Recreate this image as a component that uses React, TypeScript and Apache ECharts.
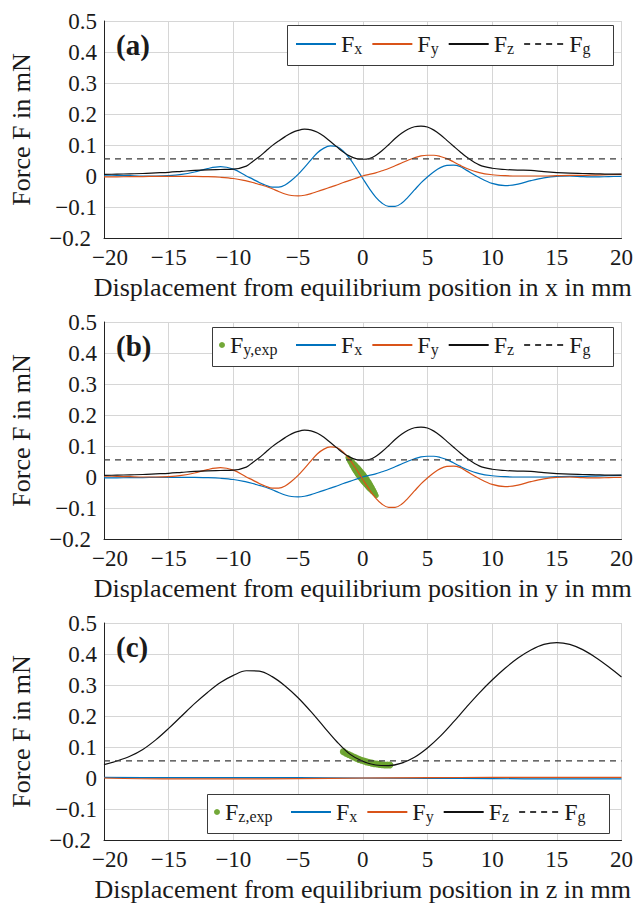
import React, { useEffect, useRef } from 'react';
import * as echarts from 'echarts';

// ---------- data ----------
const xsAB = [-20, -19, -18, -17, -16, -15, -14, -13, -12, -11, -10, -9,
  -8.5, -8, -7.5, -7, -6.5, -6, -5.5, -5, -4.5, -4, -3.5, -3, -2.5, -2, -1.5, -1, -0.5,
  0, 0.5, 1, 1.5, 2, 2.5, 3, 3.5, 4, 4.5, 5, 5.5, 6, 6.5, 7, 7.5, 8,
  9, 10, 11, 12, 13, 14, 15, 16, 17, 18, 19, 20];

// panel (a): displacement in x
const fxA = [0.003, 0.002, 0.001, 0.0, 0.0, 0.001, 0.005, 0.013, 0.024, 0.030, 0.022, 0.0,
  -0.010, -0.021, -0.030, -0.036, -0.036, -0.029, -0.014, 0.005, 0.028, 0.052, 0.075, 0.090, 0.097, 0.095, 0.080, 0.056, 0.025,
  -0.008, -0.040, -0.068, -0.088, -0.098, -0.098, -0.088, -0.068, -0.045, -0.022, -0.003, 0.014, 0.027, 0.034, 0.035, 0.031, 0.019,
  -0.005, -0.024, -0.031, -0.026, -0.015, -0.006, -0.001, 0.0, -0.002, -0.003, -0.002, -0.001];
const fyA = [-0.003, -0.003, -0.002, -0.002, -0.001, -0.001, -0.001, -0.001, -0.002, -0.004, -0.008, -0.016,
  -0.021, -0.027, -0.033, -0.041, -0.050, -0.058, -0.063, -0.064, -0.062, -0.057, -0.050, -0.043, -0.036, -0.029, -0.021, -0.014, -0.007,
  0.0, 0.005, 0.010, 0.017, 0.024, 0.033, 0.042, 0.051, 0.059, 0.065, 0.067, 0.067, 0.063, 0.056, 0.046, 0.035, 0.025,
  0.011, 0.004, 0.001, 0.0, 0.0, 0.0, 0.001, 0.002, 0.002, 0.003, 0.004, 0.005];
const fzA = [0.005, 0.006, 0.007, 0.008, 0.010, 0.012, 0.015, 0.018, 0.020, 0.021, 0.022, 0.032,
  0.047, 0.062, 0.080, 0.098, 0.113, 0.127, 0.139, 0.147, 0.151, 0.149, 0.141, 0.128, 0.111, 0.094, 0.077, 0.064, 0.056,
  0.054, 0.056, 0.066, 0.082, 0.101, 0.121, 0.138, 0.151, 0.159, 0.161, 0.158, 0.148, 0.133, 0.115, 0.097, 0.079, 0.062,
  0.036, 0.025, 0.021, 0.019, 0.018, 0.014, 0.011, 0.009, 0.008, 0.007, 0.006, 0.006];

// panel (b): displacement in y
const fxB = [-0.003, -0.003, -0.002, -0.002, -0.001, -0.001, -0.001, -0.001, -0.002, -0.004, -0.008, -0.016,
  -0.021, -0.027, -0.033, -0.041, -0.050, -0.058, -0.063, -0.064, -0.062, -0.057, -0.050, -0.043, -0.036, -0.029, -0.021, -0.014, -0.007,
  0.0, 0.005, 0.010, 0.017, 0.024, 0.033, 0.042, 0.051, 0.059, 0.065, 0.067, 0.067, 0.063, 0.056, 0.046, 0.035, 0.025,
  0.011, 0.004, 0.001, 0.0, 0.0, 0.0, 0.001, 0.002, 0.002, 0.003, 0.004, 0.005];
const fyB = [0.003, 0.002, 0.001, 0.0, 0.0, 0.001, 0.005, 0.013, 0.024, 0.030, 0.022, 0.0,
  -0.010, -0.021, -0.030, -0.036, -0.036, -0.029, -0.014, 0.005, 0.028, 0.052, 0.075, 0.090, 0.097, 0.095, 0.080, 0.056, 0.025,
  -0.008, -0.040, -0.068, -0.088, -0.098, -0.098, -0.088, -0.068, -0.045, -0.022, -0.003, 0.014, 0.027, 0.034, 0.035, 0.031, 0.019,
  -0.005, -0.024, -0.031, -0.026, -0.015, -0.006, -0.001, 0.0, -0.002, -0.003, -0.002, -0.001];
const fzB = [0.005, 0.006, 0.007, 0.008, 0.010, 0.012, 0.015, 0.018, 0.020, 0.021, 0.022, 0.032,
  0.047, 0.062, 0.080, 0.098, 0.113, 0.127, 0.139, 0.147, 0.151, 0.149, 0.141, 0.128, 0.111, 0.094, 0.077, 0.064, 0.056,
  0.054, 0.056, 0.066, 0.082, 0.101, 0.121, 0.138, 0.151, 0.159, 0.161, 0.158, 0.148, 0.133, 0.115, 0.097, 0.079, 0.062,
  0.036, 0.025, 0.021, 0.019, 0.018, 0.014, 0.011, 0.009, 0.008, 0.007, 0.006, 0.006];
const expBx = [-1.15, -1.05, -0.95, -0.85, -0.75, -0.65, -0.55, -0.45, -0.35, -0.25, -0.15, -0.05,
  0.05, 0.15, 0.25, 0.35, 0.45, 0.55, 0.65, 0.75, 0.85, 0.95, 1.05];
const expBy = [0.063, 0.057, 0.051, 0.046, 0.040, 0.035, 0.029, 0.024, 0.018, 0.012, 0.007, 0.002,
  -0.004, -0.009, -0.015, -0.020, -0.026, -0.032, -0.037, -0.043, -0.048, -0.054, -0.060];

// panel (c): displacement in z
const xsC = [-20, -19, -18, -17, -16, -15, -14, -13, -12, -11, -10, -9, -8, -7, -6, -5, -4, -3, -2, -1,
  0, 1, 2, 3, 4, 5, 6, 7, 8, 9, 10, 11, 12, 13, 14, 15, 16, 17, 18, 19, 20];
const fzC = [0.043, 0.055, 0.070, 0.092, 0.123, 0.160, 0.200, 0.240, 0.276, 0.308, 0.331, 0.346, 0.345, 0.327, 0.297,
  0.259, 0.214, 0.165, 0.117, 0.077, 0.054, 0.042, 0.040, 0.048, 0.067, 0.097, 0.135, 0.180, 0.228, 0.274,
  0.316, 0.354, 0.387, 0.413, 0.431, 0.437, 0.431, 0.414, 0.389, 0.359, 0.326];
const xsFlat = [-20, -15, -10, -5, 0, 5, 10, 15, 20];
const fxC = [0.002, 0.001, 0.001, 0.001, 0.0, -0.001, -0.002, -0.003, -0.003];
const fyC = [0.0, -0.003, -0.003, -0.002, 0.0, 0.001, 0.002, 0.002, 0.002];
const expCx = [-1.5, -1.3, -1.1, -0.9, -0.7, -0.5, -0.3, -0.1, 0.1, 0.3, 0.5, 0.7, 0.9, 1.1, 1.3, 1.5, 1.7, 1.9, 2.1];
const expCy = [0.085, 0.080, 0.076, 0.072, 0.068, 0.064, 0.060, 0.057, 0.055, 0.052, 0.050, 0.048, 0.046,
  0.045, 0.044, 0.043, 0.042, 0.042, 0.042];

const fg = 0.055; // weight force
const xTicks = { min: -20, max: 20, interval: 5 };
const yTicks = { min: -0.2, max: 0.5, interval: 0.1 };
const panelLabels = ['(a)', '(b)', '(c)'];
const xNames = [
  'Displacement from equilibrium position in x in mm',
  'Displacement from equilibrium position in y in mm',
  'Displacement from equilibrium position in z in mm',
];
const yName = 'Force F in mN';

// ---------- styling ----------
const FONT = 'Liberation Serif';
const TXT = '#1a1a1a';
const BLUE = '#0072BD';
const ORANGE = '#D95319';
const BLACK = '#111111';
const GREEN = '#6BA32E';
const GRID_TOPS = [21, 322, 623];
const TICK_FS = 23;
const NAME_FS = 26;

const zip = (a: number[], b: number[]) => a.map((v, i) => [v, b[i]]);
const minus = (s: string) => s.replace('-', '\u2212');

function buildOption() {
  const panels = [
    { xs: xsAB, fx: fxA, fy: fyA, fz: fzA, xsXY: xsAB, exp: null as null | { name: string; x: number[]; y: number[] } },
    { xs: xsAB, fx: fxB, fy: fyB, fz: fzB, xsXY: xsAB, exp: { name: 'Fy,exp', x: expBx, y: expBy } },
    { xs: xsC, fx: fxC, fy: fyC, fz: fzC, xsXY: xsFlat, exp: { name: 'Fz,exp', x: expCx, y: expCy } },
  ];

  const grid = GRID_TOPS.map((t) => ({ left: 104, top: t, width: 520, height: 217, containLabel: false }));

  const tickText = { fontFamily: FONT, fontSize: TICK_FS, color: TXT };
  const nameText = { fontFamily: FONT, fontSize: NAME_FS, color: TXT };

  const xAxis = GRID_TOPS.map((_, i) => ({
    gridIndex: i,
    type: 'value',
    ...xTicks,
    name: `{n|${xNames[i]}}`,
    nameLocation: 'middle',
    nameGap: 36,
    nameTextStyle: { ...nameText, rich: { n: { ...nameText } } },
    axisLine: { show: true, onZero: false, lineStyle: { color: '#222', width: 1 } },
    axisTick: { show: false },
    axisLabel: {
      margin: 8,
      ...tickText,
      formatter: (v: number) => {
        const s = minus(String(v));
        return v === xTicks.min ? `{lo|${s}}` : `{t|${s}}`;
      },
      rich: { lo: { ...tickText, padding: [0, 0, 0, 12] }, t: { ...tickText } },
    },
    splitLine: { show: true, lineStyle: { color: '#d6d6d6', width: 1 } },
  }));

  const yAxis = GRID_TOPS.map((_, i) => ({
    gridIndex: i,
    type: 'value',
    ...yTicks,
    name: `{n|${yName}}`,
    nameLocation: 'middle',
    nameGap: 70,
    nameTextStyle: { ...nameText, rich: { n: { ...nameText } } },
    axisLine: { show: true, onZero: false, lineStyle: { color: '#222', width: 1 } },
    axisTick: { show: false },
    axisLabel: {
      margin: 7,
      ...tickText,
      formatter: (v: number) => {
        const r = Math.round(v * 10) / 10;
        const s = r === 0 ? '0' : minus(r.toFixed(1));
        return Math.abs(r - yTicks.min) < 1e-9 ? `{lo|${s}}` : `{t|${s}}`;
      },
      rich: { lo: { ...tickText, padding: [0, 6, 0, 0] }, t: { ...tickText } },
    },
    splitLine: { show: true, lineStyle: { color: '#d6d6d6', width: 1 } },
  }));

  const series: any[] = [];
  panels.forEach((p, i) => {
    if (p.exp) {
      const n = p.exp.x.length;
      series.push({
        type: 'scatter',
        name: p.exp.name,
        xAxisIndex: i,
        yAxisIndex: i,
        data: zip(p.exp.x, p.exp.y),
        symbol: 'circle',
        symbolSize: (_v: any, params: any) => {
          if (i === 2) return 7;
          const t = (2 * params.dataIndex) / (n - 1) - 1;
          return 5 + 5 * (1 - t * t);
        },
        itemStyle: { color: GREEN, opacity: 0.95 },
        z: 1,
      });
    }
    const common = { type: 'line', xAxisIndex: i, yAxisIndex: i, showSymbol: false, symbol: 'none', smooth: 0.35, z: 2 };
    series.push({ ...common, name: 'Fx', data: zip(p.xsXY, p.fx), itemStyle: { color: BLUE }, lineStyle: { color: BLUE, width: 1.2 } });
    series.push({ ...common, name: 'Fy', data: zip(p.xsXY, p.fy), itemStyle: { color: ORANGE }, lineStyle: { color: ORANGE, width: 1.2 } });
    series.push({ ...common, name: 'Fz', data: zip(p.xs, p.fz), itemStyle: { color: BLACK }, lineStyle: { color: BLACK, width: 1.2 } });
    series.push({
      ...common,
      smooth: false,
      name: 'Fg',
      data: [[xTicks.min, fg], [xTicks.max, fg]],
      itemStyle: { color: '#3a3a3a' },
      lineStyle: { color: '#3a3a3a', width: 1.3, type: [6, 5] },
    });
  });

  const rich = {
    m: { fontFamily: FONT, fontSize: 24, color: TXT, lineHeight: 24, verticalAlign: 'top', padding: [0, 0, 3, 0] },
    s: { fontFamily: FONT, fontSize: 16, color: TXT, lineHeight: 16, verticalAlign: 'bottom' },
  };
  const legendBase = {
    orient: 'horizontal',
    padding: 0,
    itemWidth: 40,
    itemHeight: 2,
    itemGap: 9,
    selectedMode: false,
    formatter: (name: string) => `{m|F}{s|${name.slice(1)}}`,
    textStyle: { fontFamily: FONT, fontSize: 24, color: TXT, rich },
    z: 6,
  };
  const lineLegend = { ...legendBase, itemStyle: { opacity: 0 }, data: ['Fx', 'Fy', 'Fz', 'Fg'] };
  const dotLegend = { ...legendBase, itemWidth: 6, itemHeight: 6, icon: 'circle' };
  const legend = [
    { ...lineLegend, left: 295, top: 32 },
    { ...dotLegend, left: 219, top: 333, data: ['Fy,exp'] },
    { ...lineLegend, left: 295, top: 333 },
    { ...dotLegend, left: 214, top: 800, data: ['Fz,exp'] },
    { ...lineLegend, left: 290, top: 800 },
  ];

  const boxes = [
    { x: 287, y: 25, w: 326, h: 40 },
    { x: 212, y: 327, w: 401, h: 39 },
    { x: 207, y: 794, w: 402, h: 39 },
  ];
  const graphic = boxes.map((b) => ({
    type: 'rect',
    z: 5,
    shape: { x: b.x + 0.5, y: b.y + 0.5, width: b.w, height: b.h },
    style: { fill: '#ffffff', stroke: '#3a3a3a', lineWidth: 1 },
    silent: true,
  }));

  const title = panelLabels.map((t, i) => ({
    text: t,
    left: 116,
    top: GRID_TOPS[i] + 9,
    padding: 0,
    textStyle: { fontFamily: FONT, fontSize: 29, fontWeight: 'bold', color: TXT },
  }));

  return {
    animation: false,
    backgroundColor: '#ffffff',
    textStyle: { fontFamily: FONT, color: TXT },
    title,
    grid,
    xAxis,
    yAxis,
    legend,
    graphic,
    series,
  };
}

export default function App() {
  const ref = useRef<HTMLDivElement>(null);
  useEffect(() => {
    document.body.style.margin = '0';
    if (!ref.current) return;
    const chart = echarts.init(ref.current, null, { renderer: 'svg' });
    chart.setOption(buildOption() as any);
    return () => chart.dispose();
  }, []);
  return <div ref={ref} style={{ width: 636, height: 905 }} />;
}
